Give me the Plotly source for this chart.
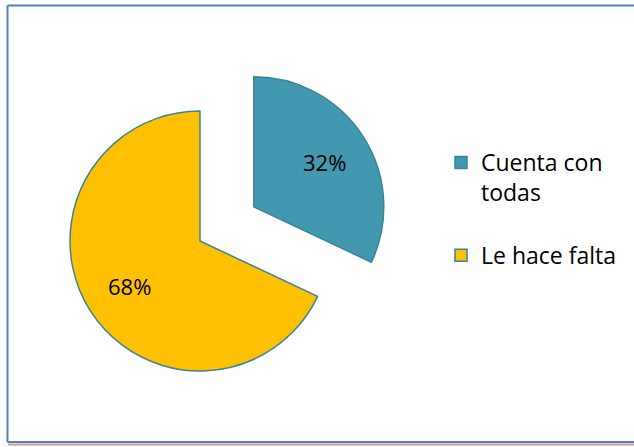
import math
import plotly.graph_objects as go

labels = ["Cuenta con<br>todas<br> ", "Le hace falta"]
values = [32, 68]
colors = ["#4298AF", "#FFC000"]
pulls = [0.49, 0]

W, H = 634, 447
# pie geometry in pixels (centre of the unpulled pie and radius)
CX, CY, R = 200, 241, 130
half = R * (1 + max(pulls))

fig = go.Figure()
fig.add_trace(go.Pie(
    labels=labels,
    values=values,
    sort=False,
    direction="clockwise",
    rotation=0,
    pull=pulls,
    marker=dict(colors=colors, line=dict(color="#3A8499", width=1.5)),
    textinfo="none",
    domain=dict(x=[(CX - half) / W, (CX + half) / W], y=[1 - (CY + half) / H, 1 - (CY - half) / H]),
    hoverinfo="label+percent",
))

# percentage labels placed on each slice's bisector
total = sum(values)
annotations = []
cum = 0
for v, p in zip(values, pulls):
    mid = (cum + v / 2) / total * 2 * math.pi
    cum += v
    dist = R * (p + 0.64)
    x = CX + dist * math.sin(mid)
    y = CY - dist * math.cos(mid)
    annotations.append(dict(
        x=x / W, y=1 - y / H, xref="paper", yref="paper",
        text=f"{round(100 * v / total)}%", showarrow=False,
        xanchor="center", yanchor="middle",
        font=dict(family="Open Sans", size=22, color="#000000"),
    ))

shapes = [
    dict(type="line", xref="paper", yref="paper", x0=7.5 / W, x1=7.5 / W, y0=1 - 442 / H, y1=1 - 5.5 / H,
         line=dict(color="#4F81BD", width=2)),
    dict(type="line", xref="paper", yref="paper", x0=7.5 / W, x1=1.0, y0=1 - 5.5 / H, y1=1 - 5.5 / H,
         line=dict(color="#4F81BD", width=2)),
    dict(type="line", xref="paper", yref="paper", x0=7.5 / W, x1=1.0, y0=1 - 442 / H, y1=1 - 442 / H,
         line=dict(color="#4F81BD", width=2)),
    dict(type="line", xref="paper", yref="paper", x0=8 / W, x1=1.0, y0=1 - 444.5 / H, y1=1 - 444.5 / H,
         line=dict(color="#D99694", width=2)),
]

fig.update_layout(
    width=W, height=H,
    margin=dict(l=0, r=0, t=0, b=0),
    paper_bgcolor="white",
    plot_bgcolor="white",
    shapes=shapes,
    annotations=annotations,
    showlegend=True,
    legend=dict(
        x=441 / W, y=1 - 141 / H, xanchor="left", yanchor="top",
        font=dict(family="Open Sans", size=23, color="#000000"),
        bgcolor="rgba(0,0,0,0)",
        itemwidth=30,
        valign="top",
    ),
)

fig.write_html("out.html")
